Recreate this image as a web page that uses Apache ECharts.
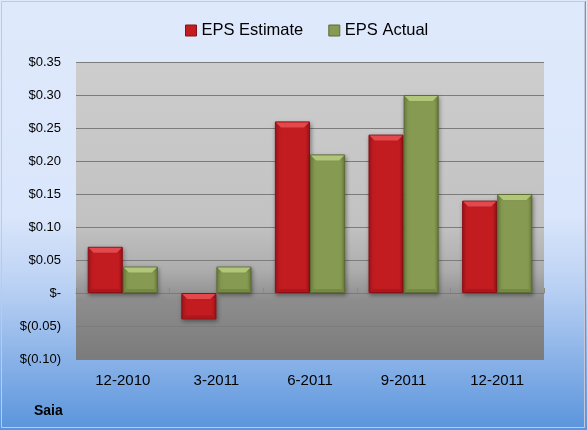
<!DOCTYPE html>
<html><head><meta charset="utf-8">
<script src="https://cdn.jsdelivr.net/npm/echarts@6/dist/echarts.min.js"></script>
<style>html,body{margin:0;padding:0;}#c{width:587px;height:430px;}</style>
</head><body><div id="c"></div>
<script>
const categories = ['12-2010', '3-2011', '6-2011', '9-2011', '12-2011'];
const epsEstimate = [0.07, -0.04, 0.26, 0.24, 0.14];
const epsActual = [0.04, 0.04, 0.21, 0.30, 0.15];
const yMin = -0.10, yMax = 0.35, yStep = 0.05;
const companyName = 'Saia';

const G = echarts.graphic;
function fmt(v) {
  const r = Math.round(v * 100) / 100;
  if (Math.abs(r) < 1e-9) return '$-';
  if (r < 0) return '$(' + Math.abs(r).toFixed(2) + ')';
  return '$' + r.toFixed(2);
}
const redGrad = new G.LinearGradient(0, 0, 1, 0, [
  {offset: 0, color: '#a3141a'}, {offset: 0.12, color: '#c21c21'},
  {offset: 0.88, color: '#c21c21'}, {offset: 1, color: '#9c1217'}]);
const greenGrad = new G.LinearGradient(0, 0, 1, 0, [
  {offset: 0, color: '#6f8140'}, {offset: 0.12, color: '#879a52'},
  {offset: 0.88, color: '#879a52'}, {offset: 1, color: '#6b7c3c'}]);
const CAT_GAP = 0.25;
function bevel(side, topCol, botCol) {
  return function (params, api) {
    const cat = api.value(0), val = api.value(1);
    const p = api.coord([cat, val]);
    const z = api.coord([cat, 0]);
    const bw = api.size([1, 0])[0] * (1 - CAT_GAP) / 2;
    const x0 = side < 0 ? p[0] - bw : p[0];
    const yT = Math.min(p[1], z[1]), yB = Math.max(p[1], z[1]);
    const h = yB - yT;
    const b = Math.min(5, h / 2);
    const bb = Math.min(3, h / 3);
    return {
      type: 'group',
      children: [
        {type: 'polygon', shape: {points: [[x0 + 1, yT + 1], [x0 + bw - 1, yT + 1], [x0 + bw - 1 - b, yT + 1 + b], [x0 + 1 + b, yT + 1 + b]]},
         style: {fill: topCol}},
        {type: 'polygon', shape: {points: [[x0 + 1, yB - 1], [x0 + bw - 1, yB - 1], [x0 + bw - 1 - bb, yB - 1 - bb], [x0 + 1 + bb, yB - 1 - bb]]},
         style: {fill: botCol}}
      ]
    };
  };
}
const font = 'Liberation Sans';
const chart = echarts.init(document.getElementById('c'), null, {renderer: 'canvas'});
chart.setOption({
  animation: false,
  textStyle: {fontFamily: font},
  graphic: [
    {type: 'rect', z: -10, silent: true, shape: {x: 0, y: 0, width: 587, height: 430},
     style: {fill: new G.LinearGradient(0, 0, 0, 1, [
       {offset: 0, color: '#dfe9fc'}, {offset: 0.5, color: '#dae6fb'},
       {offset: 0.66, color: '#bcd2f4'}, {offset: 1, color: '#5a94dc'}])}},
    {type: 'rect', z: 100, silent: true, shape: {x: 1.5, y: 1.5, width: 583, height: 426},
     style: {fill: 'none', stroke: '#c4c8d8', lineWidth: 1}},
    {type: 'line', z: 100, silent: true, shape: {x1: 585.5, y1: 1, x2: 585.5, y2: 428},
     style: {stroke: '#8c909c', lineWidth: 1}},
    {type: 'text', left: 34, top: 404, z: 100,
     style: {text: companyName, font: 'bold 14px "Liberation Sans"', fill: '#000'}}
  ],
  legend: {
    top: 17, left: 180, itemWidth: 11, itemHeight: 11, itemGap: 25,
    textStyle: {fontSize: 16.5, color: '#000', fontFamily: font},
    data: [
      {name: 'EPS Estimate', icon: 'rect', itemStyle: {color: '#c21c21', borderColor: '#8a1015', borderWidth: 1}},
      {name: 'EPS Actual', icon: 'rect', itemStyle: {color: '#879a52', borderColor: '#5d6d34', borderWidth: 1}}
    ]
  },
  grid: {left: 76, right: 43, top: 62, bottom: 71, show: true, borderWidth: 0,
    backgroundColor: new G.LinearGradient(0, 0, 0, 1, [
      {offset: 0, color: '#cdcdcd'}, {offset: 0.55, color: '#c2c2c2'},
      {offset: 0.7, color: '#adadad'}, {offset: 0.8, color: '#8d8d8d'},
      {offset: 1, color: '#7b7b7b'}])},
  xAxis: [
    {type: 'category', data: categories, position: 'bottom',
     axisLine: {show: false, onZero: false}, axisTick: {show: false},
     axisLabel: {fontSize: 15, color: '#000', margin: 14, fontFamily: font}},
    {type: 'category', data: categories, position: 'bottom',
     axisLine: {show: true, onZero: true, lineStyle: {color: '#7a7a7a', width: 1}},
     axisTick: {show: true, inside: true, length: 5, lineStyle: {color: '#8a8a8a'}},
     axisLabel: {show: false}}
  ],
  yAxis: {
    type: 'value', min: yMin, max: yMax, interval: yStep,
    axisLine: {show: false}, axisTick: {show: false},
    axisLabel: {formatter: fmt, fontSize: 13, color: '#000', margin: 15, fontFamily: font},
    splitLine: {show: true, lineStyle: {color: '#7c7c7c', width: 1}}
  },
  series: [
    {name: 'EPS Estimate', type: 'bar', data: epsEstimate, barGap: '0%', barCategoryGap: (CAT_GAP * 100) + '%',
     itemStyle: {color: redGrad, borderColor: '#8a1015', borderWidth: 1,
       shadowColor: 'rgba(0,0,0,0.35)', shadowBlur: 4, shadowOffsetX: 1, shadowOffsetY: 2}},
    {name: 'EPS Actual', type: 'bar', data: epsActual,
     itemStyle: {color: greenGrad, borderColor: '#5d6d34', borderWidth: 1,
       shadowColor: 'rgba(0,0,0,0.35)', shadowBlur: 4, shadowOffsetX: 1, shadowOffsetY: 2}},
    {name: 'bevelEstimate', type: 'custom', silent: true, z: 5,
     data: epsEstimate.map((v, i) => [i, v]),
     renderItem: bevel(-1, '#e2484c', '#ad161b')},
    {name: 'bevelActual', type: 'custom', silent: true, z: 5,
     data: epsActual.map((v, i) => [i, v]),
     renderItem: bevel(1, '#b2c67a', '#768845')}
  ]
});
</script></body></html>
